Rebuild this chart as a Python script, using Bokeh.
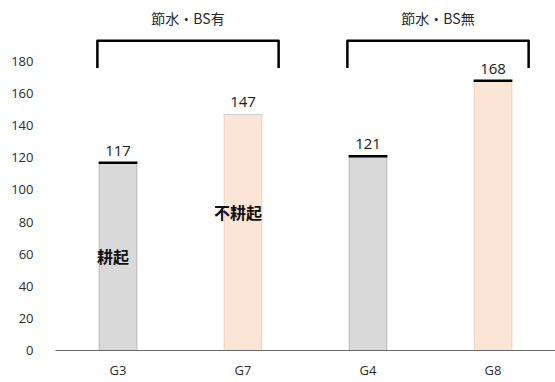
from bokeh.plotting import figure
from bokeh.models import Range1d, FixedTicker, ColumnDataSource, LabelSet
from bokeh.embed import file_html
from bokeh.resources import INLINE
from bokeh.core.properties import value

categories = ["G3", "G7", "G4", "G8"]
values = [117, 147, 121, 168]
group_labels = ["節水・BS有", "節水・BS無"]
group_members = [["G3", "G7"], ["G4", "G8"]]
tillage_labels = ["耕起", "不耕起"]
tillage_bars = ["G3", "G7"]
tillage_levels = [59, 86]
y_ticks = [0, 20, 40, 60, 80, 100, 120, 140, 160, 180]

# styles
bar_colors = ["#d9d9d9", "#fbe5d6", "#d9d9d9", "#fbe5d6"]
bar_lines = ["#bcbcbc", "#f1d3c3", "#bcbcbc", "#f1d3c3"]
cap_colors = ["black", "#cccccc", "black", "black"]
cap_widths = [2.5, 1.2, 2.5, 2.5]

xs = list(range(len(categories)))
pos = dict(zip(categories, xs))
BW = 0.3

p = figure(width=555, height=382, output_backend="svg", toolbar_location=None,
           x_range=Range1d(-0.5, 3.5), y_range=Range1d(0, 218),
           min_border_left=55, min_border_right=0, min_border_top=0, min_border_bottom=32)
p.outline_line_color = None
p.xgrid.visible = False
p.ygrid.visible = False
p.background_fill_color = "white"

src = ColumnDataSource(dict(x=xs, top=values, fill=bar_colors, line=bar_lines,
                            capc=cap_colors, capw=cap_widths,
                            lab=[str(v) for v in values],
                            x0=[x - BW / 2 - 0.005 for x in xs],
                            x1=[x + BW / 2 + 0.005 for x in xs]))
p.vbar(x="x", top="top", width=BW, bottom=0, fill_color="fill", line_color="line",
       line_width=1.2, source=src)
p.segment(x0="x0", x1="x1", y0="top", y1="top", line_color="capc", line_width="capw",
          source=src)
p.add_layout(LabelSet(x="x", y="top", text="lab", source=src, text_align="center",
                      text_baseline="bottom", y_offset=7, text_font=value("Open Sans"),
                      text_font_size="15px", text_color="#1a1a1a"))

# tillage labels
tsrc = ColumnDataSource(dict(x=[pos[c] - 0.04 for c in tillage_bars], y=tillage_levels,
                             t=tillage_labels))
p.text(x="x", y="y", text="t", source=tsrc, text_align="center", text_baseline="middle",
       text_font=value("Noto Sans CJK JP"), text_font_size="16px",
       text_font_style="bold", text_color="#111111")

# group brackets
for lab, mem in zip(group_labels, group_members):
    a = pos[mem[0]] - 0.165
    b = pos[mem[-1]] + 0.285
    p.line(x=[a, a, b, b], y=[176, 193, 193, 176], line_color="black", line_width=2.5,
           line_join="round")
    p.text(x=[(a + b) / 2], y=[207], text=[lab], text_align="center",
           text_baseline="middle", text_font=value("Noto Sans CJK JP"),
           text_font_size="14px", text_color="#262626")

p.xaxis.ticker = FixedTicker(ticks=xs)
p.xaxis.major_label_overrides = {x: c for x, c in zip(xs, categories)}
p.xaxis.major_tick_line_color = None
p.xaxis.major_tick_out = 0
p.xaxis.major_tick_in = 0
p.xaxis.minor_tick_line_color = None
p.xaxis.minor_tick_out = 0
p.xaxis.axis_line_color = "#6b6b6b"
p.xaxis.axis_line_width = 1.2
p.xaxis.major_label_standoff = 10
p.xaxis.major_label_text_font = "Open Sans"
p.xaxis.major_label_text_font_size = "13px"
p.xaxis.major_label_text_color = "#2b2b2b"

p.yaxis.ticker = FixedTicker(ticks=y_ticks)
p.yaxis.major_tick_line_color = None
p.yaxis.major_tick_out = 0
p.yaxis.major_tick_in = 0
p.yaxis.minor_tick_line_color = None
p.yaxis.minor_tick_out = 0
p.yaxis.axis_line_color = None
p.yaxis.major_label_standoff = 22
p.yaxis.major_label_text_font = "Open Sans"
p.yaxis.major_label_text_font_size = "13px"
p.yaxis.major_label_text_color = "#2b2b2b"

open("out.html", "w").write(file_html(p, INLINE))
